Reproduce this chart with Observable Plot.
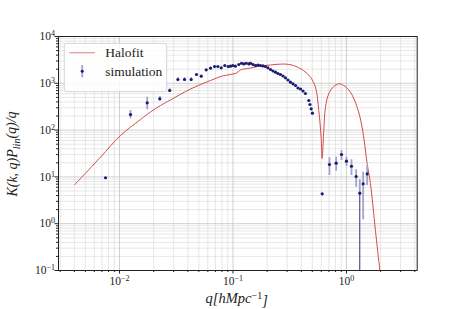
<!DOCTYPE html>
<html><head><meta charset="utf-8">
<script src="https://cdn.jsdelivr.net/npm/d3@7"></script>
<script src="https://cdn.jsdelivr.net/npm/@observablehq/plot@0.6"></script>
<style>body{margin:0;background:#fff;} #chart svg{display:block;}</style>
</head><body><div id="chart"></div>
<script>
// Halofit curve
const halofitQ = [0.00402,0.0068,0.0102,0.0153,0.01875,0.0230,0.0281,0.0422,0.0634,0.0808,0.0951,0.1074,0.1164,0.1426,0.1747,0.214,0.2787,0.3412,0.4178,0.482,0.533,0.570,0.598,0.610,0.631,0.653,0.698,0.773,0.855,0.947,1.084,1.242,1.374,1.521,1.627,1.80,1.97,2.07];
const halofitP = [6.78,26.4,76.7,168,244,336,440,755,1148,1432,1542,1660,1923,2123,2342,2462,2584,2399,1878,1349,826,262,70,24.7,98,308,597,855,975,898,646,308,115,19.3,7.2,0.716,0.1,0.037];
// simulation points
const simQ = [0.00753,0.0125,0.01754,0.02265,0.0277,0.0327,0.0374,0.0428,0.0477,0.0525,0.0581,0.0634,0.0688,0.0735,0.0787,0.0847,0.0907,0.0951,0.0996,0.1050,0.1125,0.1188,0.1245,0.1308,0.1380,0.1426,0.150,0.158,0.166,0.1747,0.1837,0.193,0.203,0.214,0.225,0.237,0.249,0.262,0.276,0.290,0.305,0.321,0.338,0.356,0.374,0.394,0.414,0.435,0.466,0.477,0.489,0.501,0.611,0.708,0.811,0.904,1.0,1.107,1.217,1.31,1.403,1.521];
const simP = [9.6,215,383,467,702,1205,1205,1205,1542,1419,1942,2104,2284,2284,2141,2399,2284,2322,2399,2322,2523,2685,2600,2685,2600,2685,2523,2399,2460,2399,2350,2284,2141,1972,1832,1727,1619,1542,1432,1312,1177,1056,976,898,794,756,684,605,429,352,285,230,4.35,18.4,19.6,30.1,21.7,16.9,10.2,4.49,7.13,11.6];
const simLo = [null,174,272,420,650,1100,1100,1100,null,null,null,null,null,null,null,null,null,null,null,null,null,null,null,null,null,null,null,null,null,null,null,null,null,null,null,null,null,null,null,null,null,null,null,null,null,null,null,null,null,null,null,null,null,10.7,13.2,22.4,16.7,10.7,6.0,0.001,1.21,6.5];
const simHi = [null,262,505,520,760,1320,1320,1320,null,null,null,null,null,null,null,null,null,null,null,null,null,null,null,null,null,null,null,null,null,null,null,null,null,null,null,null,null,null,null,null,null,null,null,null,null,null,null,null,null,null,null,null,null,25.6,26.4,36.6,26.4,23.2,14.2,8.67,12.6,17.5];
// ticks
const xTicks = [0.01, 0.1, 1];
const yTicks = [0.1, 1, 10, 100, 1000, 10000];
const legendLabels = ["Halofit", "simulation"];

const halofit = halofitQ.map((q, i) => ({q, P: halofitP[i]}));
const sim = simQ.map((q, i) => ({q, P: simP[i], lo: simLo[i], hi: simHi[i]}));
const bars = sim.filter(d => d.lo != null);
const barsUp = bars.map(d => ({q: d.q, y1: d.lo < 0.1 ? d.P : d.lo, y2: d.hi}));
const barsDown = bars.filter(d => d.lo < 0.1);

const minorX = [];
for (const e of [-3, -2, -1, 0]) for (let k = 2; k <= 9; k++) { const v = k * 10 ** e; if (v >= 0.0029 && v <= 4.2) minorX.push(+v.toPrecision(3)); }
const minorY = [];
for (const e of [-1, 0, 1, 2, 3]) for (let k = 2; k <= 9; k++) minorY.push(+(k * 10 ** e).toPrecision(3));

const fmt = d => String(Math.round(Math.log10(d))).replace("-", "\u2212");
const red = "#d24b4b";
const navy = "#1b1b72";
const errc = "#a3a3cc";
const font = "Liberation Serif, serif";

const chart = Plot.plot({
  width: 463, height: 309,
  marginLeft: 58, marginRight: 46.3, marginTop: 36, marginBottom: 39,
  style: {fontFamily: font, fontSize: "11.5px", background: "#fff", color: "#222"},
  x: {type: "log", domain: [0.0029, 4.2]},
  y: {type: "log", domain: [0.1, 10000]},
  marks: [
    Plot.ruleX(minorX, {stroke: "#dcdcdc", strokeWidth: 0.7}),
    Plot.ruleY(minorY, {stroke: "#dcdcdc", strokeWidth: 0.7}),
    Plot.ruleX(xTicks, {stroke: "#c4c4c4", strokeWidth: 0.8}),
    Plot.ruleY(yTicks, {stroke: "#c4c4c4", strokeWidth: 0.8}),
    Plot.line(halofit, {x: "q", y: "P", stroke: red, strokeWidth: 1, curve: "catmull-rom", clip: true}),
    Plot.ruleX(barsUp, {x: "q", y1: "y1", y2: "y2", stroke: errc, strokeWidth: 1.8}),
    Plot.ruleX(barsDown, {x: "q", y1: "lo", y2: "P", stroke: navy, strokeWidth: 0.9, clip: true}),
    Plot.dot(sim, {x: "q", y: "P", r: 1.6, fill: navy, stroke: "none"}),
    Plot.axisX(minorX, {tickSize: 2, tickFormat: () => "", label: null, stroke: "#222"}),
    Plot.axisY(minorY, {tickSize: 2, tickFormat: () => "", label: null, stroke: "#222"}),
    Plot.axisX(xTicks, {tickSize: 3.5, tickPadding: 3, tickFormat: fmt, label: null, stroke: "#222", fontSize: 11.5}),
    Plot.axisY(yTicks, {tickSize: 3.5, tickPadding: 0, tickFormat: fmt, label: null, stroke: "#222", fontSize: 11.5}),
    Plot.frame({stroke: "#222", strokeWidth: 1})
  ]
});
document.getElementById("chart").appendChild(chart);

const svg = d3.select(chart);
svg.selectAll('g[aria-label="x-axis tick label"] text, g[aria-label="y-axis tick label"] text').each(function () {
  const t = d3.select(this);
  const e = t.text();
  if (!e) return;
  t.text(null);
  t.append("tspan").text("10");
  t.append("tspan").attr("dy", "-0.5em").attr("font-size", "0.7em").text(e);
});

// axis labels
const yl = svg.append("text").attr("transform", "translate(17,154) rotate(-90)")
  .attr("text-anchor", "middle").attr("font-family", font).attr("font-size", 14).attr("font-style", "italic").attr("fill", "#222");
yl.append("tspan").text("K(k, q)P");
yl.append("tspan").attr("dy", "0.3em").attr("font-size", 10).text("lin");
yl.append("tspan").attr("dy", "-0.3em").text("(q)/q");
const xl = svg.append("text").attr("x", 236.7).attr("y", 303)
  .attr("text-anchor", "middle").attr("font-family", font).attr("font-size", 14.5).attr("font-style", "italic").attr("fill", "#222");
xl.append("tspan").text("q[hMpc");
xl.append("tspan").attr("dy", "-0.45em").attr("font-size", 10).attr("font-style", "normal").text("\u22121");
xl.append("tspan").attr("dy", "0.45em").text("]");

// legend
const lg = svg.append("g");
lg.append("rect").attr("x", 64.3).attr("y", 43.3).attr("width", 102.4).attr("height", 48.4).attr("rx", 2.5)
  .attr("fill", "#fff").attr("fill-opacity", 0.85).attr("stroke", "#cccccc").attr("stroke-width", 0.8);
lg.append("line").attr("x1", 69.3).attr("x2", 95).attr("y1", 52.7).attr("y2", 52.7).attr("stroke", red).attr("stroke-width", 1.2).attr("stroke-opacity", 0.6);
lg.append("line").attr("x1", 82.2).attr("x2", 82.2).attr("y1", 65).attr("y2", 77.5).attr("stroke", errc).attr("stroke-width", 1.8);
lg.append("circle").attr("cx", 82.2).attr("cy", 71.2).attr("r", 1.5).attr("fill", navy);
lg.selectAll("text.lab").data(legendLabels).join("text").attr("class", "lab")
  .attr("x", 105.3).attr("y", (d, i) => 57 + i * 19).attr("text-anchor", "start")
  .attr("font-family", font).attr("font-size", 13.5).attr("fill", "#222").text(d => d);
</script>
</body></html>
